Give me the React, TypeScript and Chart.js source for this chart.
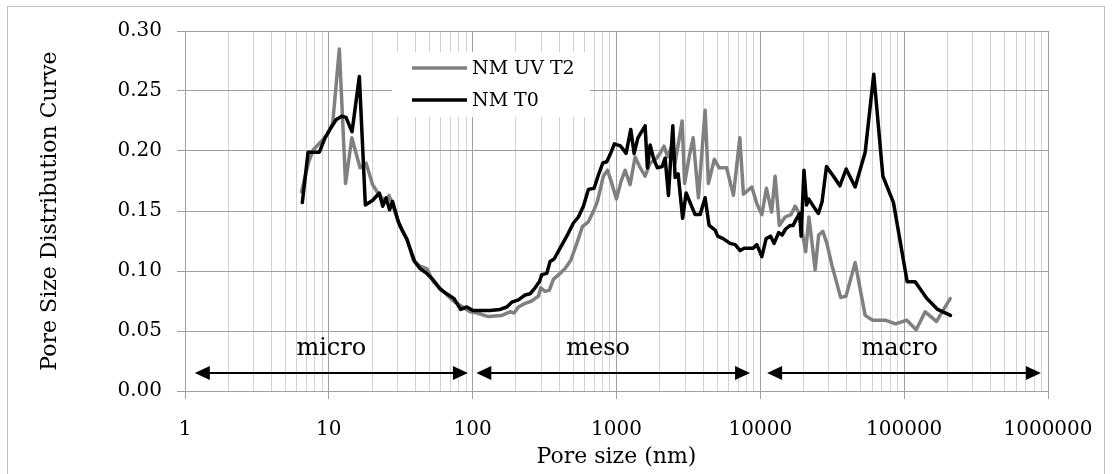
import React, { useEffect, useRef } from 'react';
import { Chart, registerables } from 'chart.js';

Chart.register(...registerables);

const seriesNames = ['NM UV T2', 'NM T0'];
const seriesColors = ['#808080', '#000000'];

const uvT2Size = [
  6.46, 7.2, 7.8, 8.55, 9.67, 10.64, 11.83, 13.07, 14.45, 16.48,
  18.14, 20.14, 21.64, 23.33, 24.6, 26.22, 28.09, 31.27, 34.82, 38.7,
  43.08, 47.96, 53.29, 62.55, 73.41, 85.1, 95.92, 107.3, 128.6, 159.4,
  182.0, 194.1, 207.9, 231.4, 257.6, 286.3, 297.5, 318.8, 341.5, 364.1,
  405.3, 439.2, 481.2, 529.6, 579.3, 637.6, 698.7, 736.5, 810.8, 867.1,
  927.5, 998.4, 1071, 1148, 1243, 1347, 1447, 1581, 1713, 1870,
  2010, 2143, 2267, 2417, 2556, 2859, 2976, 3198, 3410, 3712,
  4131, 4356, 4788, 5170, 5831, 6500, 7201, 7629, 8729, 9457,
  10243, 11025, 11985, 12675, 13558, 14876, 16326, 17458, 18615, 20654,
  21777, 24052, 25436, 27198, 29006, 31430, 36180, 39380, 45624, 53569,
  60390, 73780, 87290, 104420, 121170, 139960, 167700, 208900,
];
const uvT2Value = [
  0.166, 0.19, 0.201, 0.206, 0.213, 0.223, 0.285, 0.173, 0.211, 0.186,
  0.19, 0.172, 0.166, 0.161, 0.158, 0.163, 0.153, 0.137, 0.127, 0.109,
  0.104, 0.102, 0.091, 0.083, 0.075, 0.07, 0.066, 0.065, 0.062, 0.063,
  0.066, 0.065, 0.07, 0.073, 0.075, 0.079, 0.086, 0.083, 0.084, 0.093,
  0.098, 0.102, 0.109, 0.123, 0.137, 0.141, 0.151, 0.158, 0.179, 0.184,
  0.173, 0.16, 0.174, 0.184, 0.172, 0.195, 0.187, 0.179, 0.19, 0.193,
  0.198, 0.204, 0.195, 0.204, 0.19, 0.225, 0.173, 0.195, 0.211, 0.161,
  0.234, 0.173, 0.193, 0.186, 0.186, 0.163, 0.211, 0.164, 0.17, 0.156,
  0.147, 0.169, 0.149, 0.179, 0.138, 0.145, 0.147, 0.154, 0.148, 0.116,
  0.145, 0.101, 0.13, 0.133, 0.123, 0.105, 0.078, 0.079, 0.107, 0.063,
  0.059, 0.059, 0.056, 0.059, 0.051, 0.066, 0.058, 0.077,
];

const t0Size = [
  6.54, 7.17, 8.59, 9.41, 10.19, 11.22, 12.29, 13.17, 14.5, 16.3,
  17.94, 20.2, 22.45, 23.71, 25.0, 26.43, 27.73, 30.43, 32.66, 34.99,
  39.45, 43.08, 47.96, 52.78, 59.33, 66.06, 74.25, 82.4, 91.0, 100.6,
  112.6, 132.1, 155.0, 172.7, 187.1, 207.9, 231.4, 250.6, 271.6, 290.9,
  302.3, 327.6, 345.3, 368.2, 405.3, 451.2, 501.6, 543.3, 588.6, 637.6,
  698.7, 748.4, 803, 856, 902.5, 967, 1071, 1166, 1257, 1326,
  1409, 1581, 1640, 1713, 1817, 1924, 2076, 2178, 2296, 2463,
  2556, 2682, 2882, 3048, 3521, 3815, 4131, 4405, 4851, 5049,
  5511, 6166, 6679, 7236, 7716, 8912, 9457, 10243, 10972, 11793,
  12474, 13410, 14178, 14993, 16117, 16912, 17746, 18766, 19221, 20104,
  20989, 21672, 23666, 25351, 26896, 28823, 32241, 35713, 39509, 45624,
  53569, 61450, 71115, 84258, 104930, 119260, 143830, 171000, 209900,
];
const t0Value = [
  0.157, 0.199, 0.199, 0.211, 0.218, 0.226, 0.229, 0.228, 0.216, 0.262,
  0.155, 0.159, 0.165, 0.154, 0.161, 0.151, 0.158, 0.141, 0.133, 0.126,
  0.108, 0.102, 0.098, 0.093, 0.085, 0.081, 0.077, 0.068, 0.07, 0.067,
  0.067, 0.067, 0.068, 0.07, 0.074, 0.076, 0.08, 0.081, 0.086, 0.091,
  0.097, 0.098, 0.108, 0.11, 0.119, 0.129, 0.14, 0.145, 0.154, 0.168,
  0.169, 0.18, 0.19, 0.191, 0.197, 0.206, 0.204, 0.198, 0.218, 0.198,
  0.211, 0.221, 0.186, 0.205, 0.193, 0.186, 0.187, 0.194, 0.163, 0.221,
  0.178, 0.181, 0.144, 0.165, 0.147, 0.147, 0.161, 0.138, 0.134, 0.129,
  0.127, 0.123, 0.122, 0.117, 0.119, 0.119, 0.122, 0.112, 0.127, 0.129,
  0.123, 0.132, 0.13, 0.135, 0.138, 0.138, 0.143, 0.148, 0.129, 0.184,
  0.155, 0.16, 0.153, 0.148, 0.158, 0.187, 0.179, 0.171, 0.185, 0.17,
  0.199, 0.264, 0.179, 0.157, 0.091, 0.091, 0.077, 0.068, 0.063,
];

const xLabelTicks = [1, 10, 100, 1000, 10000, 100000, 1000000];
const xMinorMultipliers = [2, 3, 4, 5, 6, 7, 8, 9];
const yTickValues = [0, 0.05, 0.1, 0.15, 0.2, 0.25, 0.3];

const rangeNames = ['micro', 'meso', 'macro'];
const rangeFrom = [1.17, 106, 11150];
const rangeTo = [92.7, 8480, 892000];
const rangeLabelAt = [10.4, 745, 93000];
const arrowLevel = 0.015;
const rangeLabelLevel = 0.03;

const FONT = '"DejaVu Serif", serif';

const xGridTicks: number[] = [];
xLabelTicks.forEach((d, i) => {
  xGridTicks.push(d);
  if (i < xLabelTicks.length - 1) xMinorMultipliers.forEach((m) => xGridTicks.push(d * m));
});
xGridTicks.sort((a, b) => a - b);

const decorPlugin = {
  id: 'decor',
  beforeDraw(chart: any) {
    const { ctx, width, height } = chart;
    ctx.save();
    ctx.fillStyle = '#ffffff';
    ctx.fillRect(0, 0, width, height);
    ctx.strokeStyle = '#c0c0c0';
    ctx.lineWidth = 1;
    ctx.strokeRect(7.5, 6.5, width - 15, height + 20);
    ctx.restore();
  },
  afterDatasetsDraw(chart: any) {
    const { ctx } = chart;
    const x = chart.scales.x;
    const y = chart.scales.y;
    ctx.save();
    // legend
    ctx.fillStyle = '#ffffff';
    ctx.fillRect(392, 52, 198, 65);
    const rows = [68, 100];
    chart.data.datasets.forEach((ds: any, i: number) => {
      ctx.strokeStyle = ds.borderColor;
      ctx.lineWidth = 3.5;
      ctx.beginPath();
      ctx.moveTo(412, rows[i]);
      ctx.lineTo(467, rows[i]);
      ctx.stroke();
      ctx.fillStyle = '#000';
      ctx.font = `19px ${FONT}`;
      ctx.textAlign = 'left';
      ctx.textBaseline = 'middle';
      ctx.fillText(ds.label, 472, rows[i] + 1);
    });
    // range arrows
    const head = 15;
    const half = 7;
    ctx.strokeStyle = '#000';
    ctx.fillStyle = '#000';
    rangeNames.forEach((name, i) => {
      const x1 = x.getPixelForValue(rangeFrom[i]);
      const x2 = x.getPixelForValue(rangeTo[i]);
      const yy = y.getPixelForValue(arrowLevel);
      ctx.lineWidth = 2;
      ctx.beginPath();
      ctx.moveTo(x1 + head - 1, yy);
      ctx.lineTo(x2 - head + 1, yy);
      ctx.stroke();
      ctx.beginPath();
      ctx.moveTo(x1, yy);
      ctx.lineTo(x1 + head, yy - half);
      ctx.lineTo(x1 + head, yy + half);
      ctx.closePath();
      ctx.fill();
      ctx.beginPath();
      ctx.moveTo(x2, yy);
      ctx.lineTo(x2 - head, yy - half);
      ctx.lineTo(x2 - head, yy + half);
      ctx.closePath();
      ctx.fill();
      ctx.font = `24px ${FONT}`;
      ctx.textAlign = 'center';
      ctx.textBaseline = 'alphabetic';
      ctx.fillText(name, x.getPixelForValue(rangeLabelAt[i]), y.getPixelForValue(rangeLabelLevel));
    });
    ctx.restore();
  },
};

export default function App() {
  const ref = useRef<HTMLCanvasElement | null>(null);
  useEffect(() => {
    if (!ref.current) return;
    const chart = new Chart(ref.current, {
      type: 'line',
      data: {
        datasets: [
          {
            label: seriesNames[0],
            data: uvT2Size.map((s, i) => ({ x: s, y: uvT2Value[i] })),
            borderColor: seriesColors[0],
            backgroundColor: seriesColors[0],
            borderWidth: 3.5,
            pointRadius: 0,
            borderJoinStyle: 'round',
            borderCapStyle: 'round',
            order: 2,
          },
          {
            label: seriesNames[1],
            data: t0Size.map((s, i) => ({ x: s, y: t0Value[i] })),
            borderColor: seriesColors[1],
            backgroundColor: seriesColors[1],
            borderWidth: 3.5,
            pointRadius: 0,
            borderJoinStyle: 'round',
            borderCapStyle: 'round',
            order: 1,
          },
        ],
      },
      options: {
        animation: false,
        responsive: false,
        maintainAspectRatio: false,
        devicePixelRatio: 1,
        layout: { padding: { left: 0, right: 64, top: 31, bottom: 0 } },
        plugins: { legend: { display: false }, tooltip: { enabled: false } },
        scales: {
          x: {
            type: 'logarithmic',
            min: 1,
            max: 1000000,
            afterBuildTicks: (scale: any) => {
              scale.ticks = xGridTicks.map((v) => ({ value: v, major: xLabelTicks.includes(v) }));
            },
            afterFit: (scale: any) => {
              scale.height = 83;
            },
            ticks: {
              autoSkip: false,
              maxRotation: 0,
              minRotation: 0,
              padding: 19,
              color: '#000',
              font: { family: FONT, size: 20 },
              callback: (v: any) => (xLabelTicks.includes(Number(v)) ? String(v) : ''),
            },
            grid: {
              color: (c: any) => (c.tick && xLabelTicks.includes(c.tick.value) ? '#a0a0a0' : '#d2d2d2'),
              tickColor: (c: any) => (c.tick && xLabelTicks.includes(c.tick.value) ? '#a0a0a0' : 'rgba(0,0,0,0)'),
              tickLength: 8,
              lineWidth: 1,
            },
            border: { color: '#a0a0a0' },
            title: {
              display: true,
              text: 'Pore size (nm)',
              color: '#000',
              font: { family: FONT, size: 22 },
              padding: { top: 0, bottom: 4 },
            },
          },
          y: {
            type: 'linear',
            min: 0,
            max: 0.3,
            afterBuildTicks: (scale: any) => {
              scale.ticks = yTickValues.map((v) => ({ value: v }));
            },
            afterFit: (scale: any) => {
              scale.width = 185;
            },
            ticks: {
              padding: 15,
              color: '#000',
              font: { family: FONT, size: 20 },
              callback: (v: any) => Number(v).toFixed(2),
            },
            grid: { color: '#a0a0a0', tickColor: '#a0a0a0', tickLength: 8, lineWidth: 1 },
            border: { color: '#a0a0a0' },
            title: {
              display: true,
              text: 'Pore Size Distribution Curve',
              color: '#000',
              font: { family: FONT, size: 22 },
              padding: { top: 37, bottom: 0 },
            },
          },
        },
      },
      plugins: [decorPlugin],
    } as any);
    return () => chart.destroy();
  }, []);
  return (
    <div style={{ position: 'absolute', left: 0, top: 0, width: 1112, height: 474 }}>
      <canvas ref={ref} width={1112} height={474} style={{ display: 'block', width: 1112, height: 474 }} />
    </div>
  );
}
